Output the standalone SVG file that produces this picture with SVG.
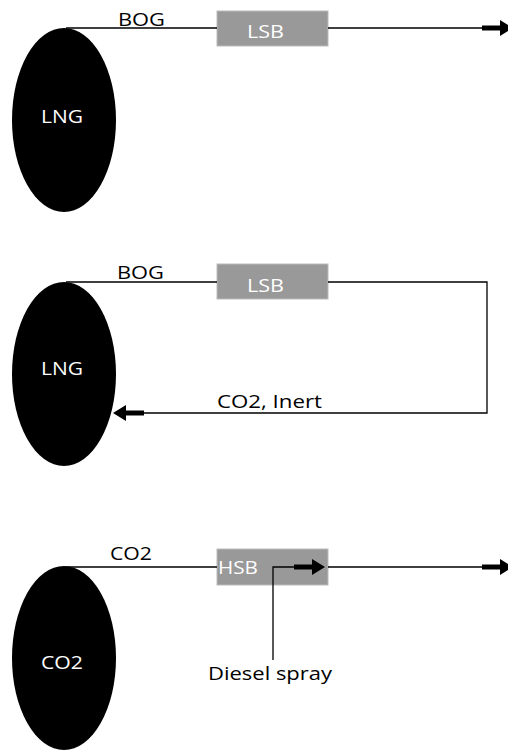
<svg xmlns="http://www.w3.org/2000/svg" width="508" height="751" viewBox="0 0 508 751">
<style>
text{font-family:"Open Sans","Liberation Sans",sans-serif;font-size:18px}
.tank{fill:#000}
.tl{fill:#fff}
.box{fill:#999;stroke:#bbb;stroke-width:1}
.bl{fill:#fff}
.ln{fill:none;stroke:#000;stroke-width:1.3}
.thick{stroke:#000;stroke-width:5}
.lab{fill:#000}
</style>
<defs>
<g id="arrR"><line class="thick" x1="-31" y1="0" x2="-12" y2="0"/><polygon points="-13,-8 0,0 -13,8" fill="#000"/></g>
</defs>
<rect width="508" height="751" fill="#fff"/>
<g id="tank1"><ellipse class="tank" cx="64" cy="120" rx="52" ry="92"/><text class="tl" x="41" y="123" textLength="42" lengthAdjust="spacingAndGlyphs">LNG</text></g>
<g id="lsb1"><rect class="box" x="217" y="11" width="111" height="35"/><text class="bl" x="247" y="38" textLength="37" lengthAdjust="spacingAndGlyphs">LSB</text></g>
<text class="lab" x="118" y="26" textLength="47" lengthAdjust="spacingAndGlyphs">BOG</text>
<g id="tank2"><ellipse class="tank" cx="64" cy="374" rx="52" ry="92"/><text class="tl" x="41" y="375" textLength="42" lengthAdjust="spacingAndGlyphs">LNG</text></g>
<g id="lsb2"><rect class="box" x="217" y="264" width="111" height="35"/><text class="bl" x="247" y="292" textLength="37" lengthAdjust="spacingAndGlyphs">LSB</text></g>
<text class="lab" x="117" y="279" textLength="47" lengthAdjust="spacingAndGlyphs">BOG</text>
<text class="lab" x="217" y="408" textLength="105" lengthAdjust="spacingAndGlyphs">CO2, Inert</text>
<g id="tank3"><ellipse class="tank" cx="64" cy="658" rx="52" ry="92"/><text class="tl" x="41" y="669" textLength="42" lengthAdjust="spacingAndGlyphs">CO2</text></g>
<g id="hsb"><rect class="box" x="217" y="549" width="111" height="36"/><text class="bl" x="218" y="574" textLength="40" lengthAdjust="spacingAndGlyphs">HSB</text></g>
<text class="lab" x="110" y="560" textLength="42" lengthAdjust="spacingAndGlyphs">CO2</text>
<text class="lab" x="208" y="680" textLength="124" lengthAdjust="spacingAndGlyphs">Diesel spray</text>
<g id="connectors">
<path class="ln" d="M66,28 H217 M328,28 H490"/>
<use href="#arrR" x="513" y="28"/>
<path class="ln" d="M66,282 H217 M328,282 H487 V413 H135"/>
<g transform="translate(113,413) scale(-1,1)"><use href="#arrR" x="0" y="0"/></g>
<path class="ln" d="M66,567 H217 M328,567 H490"/>
<use href="#arrR" x="513" y="567"/>
<path class="ln" d="M273,660 V567 H300"/>
<use href="#arrR" x="325" y="567"/>
</g>
</svg>
